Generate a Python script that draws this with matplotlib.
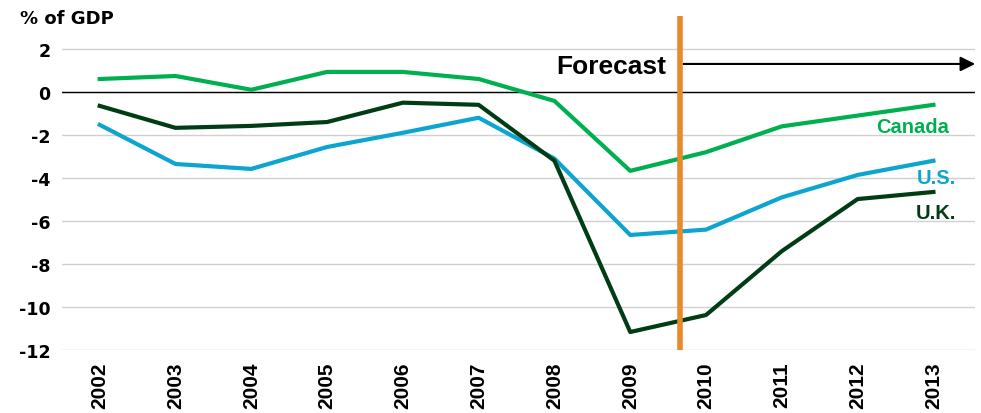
import matplotlib
matplotlib.use('Agg')
import matplotlib.pyplot as plt

plt.rcParams['font.family'] = ['Liberation Sans', 'DejaVu Sans']

# Dados (% do PIB)
anos = ['2002', '2003', '2004', '2005', '2006', '2007',
        '2008', '2009', '2010', '2011', '2012', '2013']
canada = [0.6, 0.74, 0.1, 0.93, 0.93, 0.6, -0.42, -3.67, -2.8, -1.6, -1.1, -0.6]
eua = [-1.53, -3.35, -3.58, -2.56, -1.9, -1.2, -3.1, -6.65, -6.4, -4.9, -3.86, -3.2]
reino_unido = [-0.65, -1.67, -1.58, -1.4, -0.5, -0.6, -3.2, -11.16, -10.37, -7.4, -4.98, -4.65]
yticks = [2, 0, -2, -4, -6, -8, -10, -12]

cor_canada = '#00b050'
cor_eua = '#0ca5cf'
cor_uk = '#003d14'
cor_laranja = '#e8892a'

x = list(range(len(anos)))

fig = plt.figure(figsize=(9.81, 4.14), dpi=100)
ax = fig.add_axes([0.063, 0.152, 0.931, 0.807])

# grade
for v in yticks:
    ax.axhline(v, color='#d0d0d0', lw=1, zorder=0)
ax.axhline(0, color='black', lw=1, zorder=1)

ax.plot(x, canada, color=cor_canada, lw=3, zorder=3)
ax.plot(x, eua, color=cor_eua, lw=3, zorder=3)
ax.plot(x, reino_unido, color=cor_uk, lw=3, zorder=3)

# linha da previsão
ax.axvline(7.65, color=cor_laranja, lw=4, zorder=4)
ax.text(7.48, 1.2, 'Forecast', ha='right', va='center', fontsize=19, fontweight='bold')
ax.annotate('', xy=(11.55, 1.3), xytext=(7.7, 1.3),
            arrowprops=dict(arrowstyle='-|>', color='black', lw=1.5,
                            mutation_scale=22, shrinkA=0, shrinkB=0))

# rótulos das séries
ax.text(11.2, -1.6, 'Canada', color=cor_canada, ha='right', va='center',
        fontsize=14.5, fontweight='bold')
ax.text(11.3, -4.0, 'U.S.', color=cor_eua, ha='right', va='center',
        fontsize=14.5, fontweight='bold')
ax.text(11.3, -5.6, 'U.K.', color=cor_uk, ha='right', va='center',
        fontsize=14.5, fontweight='bold')

ax.set_xlim(-0.5, 11.55)
ax.set_ylim(-12, 3.53)
ax.set_xticks(x)
ax.set_xticklabels(anos, rotation=90, fontsize=15, fontweight='bold')
ax.set_yticks(yticks)
ax.set_yticklabels([str(v) for v in yticks], fontsize=12.5, fontweight='bold',
                   family='DejaVu Sans')
ax.tick_params(length=0, pad=8)
for s in ax.spines.values():
    s.set_visible(False)

fig.text(0.02, 0.955, '% of GDP', fontsize=13, fontweight='bold', va='center',
         family='DejaVu Sans')

fig.savefig('out.png', dpi=100)
